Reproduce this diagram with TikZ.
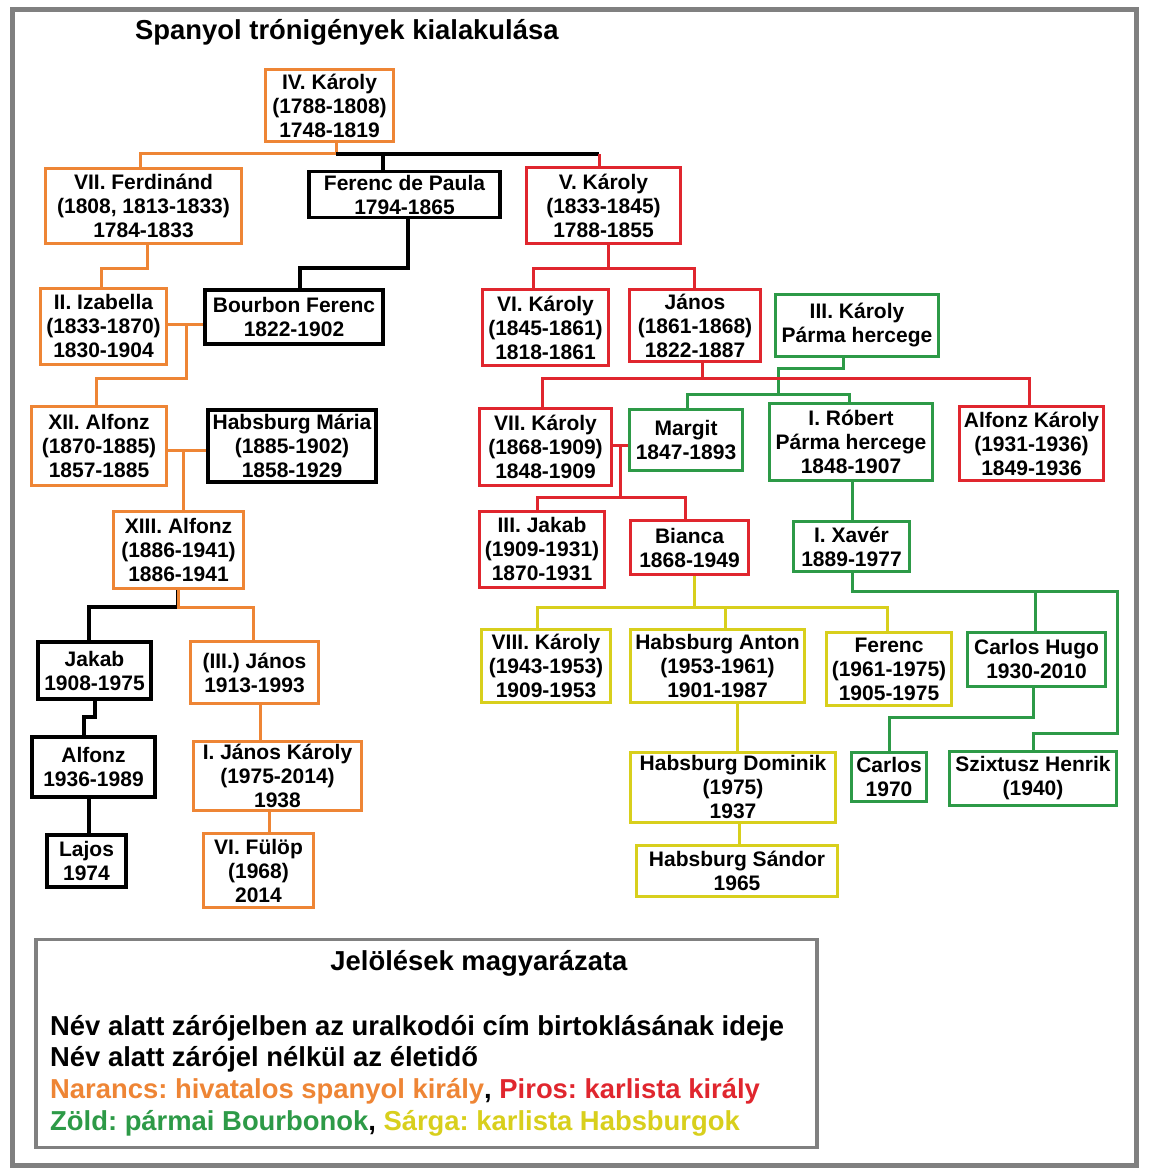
\documentclass[tikz,border=0pt]{standalone}
\usepackage{fontspec}
\setmainfont{Liberation Sans}
\usepackage{tikz}
\frenchspacing
\definecolor{narancs}{HTML}{EE8535}
\definecolor{piros}{HTML}{E0262E}
\definecolor{zold}{HTML}{2D9A47}
\definecolor{sarga}{HTML}{D8CF1C}
\definecolor{framegray}{HTML}{808080}
\tikzset{
  person/.style={draw,line width=3pt,align=center,inner sep=0pt,font=\fontsize{21}{24}\selectfont\bfseries},
  orangebox/.style={person,draw=narancs},
  redbox/.style={person,draw=piros},
  greenbox/.style={person,draw=zold},
  yellowbox/.style={person,draw=sarga},
  blackbox/.style={person,draw=black,line width=3.5pt},
  boxsize/.style 2 args={minimum width=#1pt,minimum height=#2pt},
  orangeline/.style={draw=narancs,line width=3pt},
  redline/.style={draw=piros,line width=3pt},
  greenline/.style={draw=zold,line width=3pt},
  yellowline/.style={draw=sarga,line width=3pt},
  blackline/.style={draw=black,line width=3.5pt},
  outerframe/.style={draw=framegray,line width=5pt},
  legendbox/.style={draw=framegray,line width=3.5pt,inner sep=0pt},
  legendtext/.style={inner sep=0pt,font=\fontsize{27.4}{32}\selectfont\bfseries},
}

\begin{document}
\begin{tikzpicture}[x=1pt,y=-1pt]
    \useasboundingbox (0,0) rectangle (1148,1174);
    \draw[outerframe] (12.5,9.5) rectangle (1136.5,1165);
    \node[legendtext,anchor=base west] (title) at (135,39.5) {Spanyol trónigények kialakulása};

    \node[orangebox,boxsize={128}{72}] (ivkaroly) at (329.5,105.5) {IV. Károly\\(1788-1808)\\1748-1819};
    \node[orangebox,boxsize={196}{75}] (ferdinand) at (143.5,206) {VII. Ferdinánd\\(1808, 1813-1833)\\1784-1833};
    \node[blackbox,boxsize={191}{46}] (ferencp) at (404.5,194.5) {Ferenc de Paula\\1794-1865};
    \node[redbox,boxsize={154}{76}] (vkaroly) at (603.5,205.5) {V. Károly\\(1833-1845)\\1788-1855};
    \node[orangebox,boxsize={126}{76}] (izabella) at (103.5,326.5) {II. Izabella\\(1833-1870)\\1830-1904};
    \node[blackbox,boxsize={178}{54}] (bferenc) at (294,317) {Bourbon Ferenc\\1822-1902};
    \node[redbox,boxsize={126}{76}] (vikaroly) at (545.5,327.5) {VI. Károly\\(1845-1861)\\1818-1861};
    \node[redbox,boxsize={131}{72}] (janos) at (695,325.5) {János\\(1861-1868)\\1822-1887};
    \node[greenbox,boxsize={163}{62}] (iiikaroly) at (857,325.5) {III. Károly\\Párma hercege};
    \node[orangebox,boxsize={135}{79}] (xiialfonz) at (99,446) {XII. Alfonz\\(1870-1885)\\1857-1885};
    \node[blackbox,boxsize={168}{72}] (hmaria) at (292,446) {Habsburg Mária\\(1885-1902)\\1858-1929};
    \node[redbox,boxsize={132}{77}] (viikaroly) at (545.5,447) {VII. Károly\\(1868-1909)\\1848-1909};
    \node[greenbox,boxsize={113}{61}] (margit) at (686,440) {Margit\\1847-1893};
    \node[greenbox,boxsize={163}{77}] (robert) at (851,442) {I. Róbert\\Párma hercege\\1848-1907};
    \node[redbox,boxsize={144}{74}] (alfonzk) at (1031.5,443.5) {Alfonz Károly\\(1931-1936)\\1849-1936};
    \node[orangebox,boxsize={130}{77}] (xiiialfonz) at (178.5,550) {XIII. Alfonz\\(1886-1941)\\1886-1941};
    \node[redbox,boxsize={125}{76}] (iiijakab) at (542,549.5) {III. Jakab\\(1909-1931)\\1870-1931};
    \node[redbox,boxsize={118}{54}] (bianca) at (689.5,547.5) {Bianca\\1868-1949};
    \node[greenbox,boxsize={116}{50}] (xaver) at (851.5,546.5) {I. Xavér\\1889-1977};
    \node[blackbox,boxsize={113}{57}] (jakab) at (94.5,670.5) {Jakab\\1908-1975};
    \node[orangebox,boxsize={128}{62}] (janosiii) at (254.5,672.5) {(III.) János\\1913-1993};
    \node[yellowbox,boxsize={129}{73}] (viiikaroly) at (546,666) {VIII. Károly\\(1943-1953)\\1909-1953};
    \node[yellowbox,boxsize={174}{73}] (anton) at (717.5,666) {Habsburg Anton\\(1953-1961)\\1901-1987};
    \node[yellowbox,boxsize={125}{73}] (ferency) at (889,669) {Ferenc\\(1961-1975)\\1905-1975};
    \node[greenbox,boxsize={138}{54}] (carloshugo) at (1036.5,659.5) {Carlos Hugo\\1930-2010};
    \node[blackbox,boxsize={123}{60}] (alfonz) at (93.5,767) {Alfonz\\1936-1989};
    \node[orangebox,boxsize={168}{69}] (janoskaroly) at (277.5,776) {I. János Károly\\(1975-2014)\\1938};
    \node[yellowbox,boxsize={205}{70}] (dominik) at (733,787.5) {Habsburg Dominik\\(1975)\\1937};
    \node[greenbox,boxsize={75}{49}] (carlos) at (889,777) {Carlos\\1970};
    \node[greenbox,boxsize={167}{54}] (szixtusz) at (1033,778.5) {Szixtusz Henrik\\(1940)};
    \node[blackbox,boxsize={79}{52}] (lajos) at (86.5,861) {Lajos\\1974};
    \node[orangebox,boxsize={110}{74}] (fulop) at (258.5,870.5) {VI. Fülöp\\(1968)\\2014};
    \node[yellowbox,boxsize={201}{51}] (sandor) at (737,871) {Habsburg Sándor\\1965};

    \draw[orangeline] (ivkaroly.south -| 336,0) -- (336,154) -| (ferdinand.north -| 140,0);
    \draw[blackline] (ferencp.north -| 383,0) -- (383,154) (336,154) -- (599,154);
    \draw[redline] (599,154) -- (vkaroly.north -| 599,0);
    \draw[orangeline] (ferdinand.south -| 147,0) -- (147,268) -| (izabella.north -| 101,0);
    \draw[blackline] (ferencp.south -| 408,0) -- (408,268) -| (bferenc.north -| 300,0);
    \draw[orangeline] (izabella.east |- 0,324) -- (bferenc.west |- 0,324) (186,324) -- (186,378) -| (xiialfonz.north -| 96,0);
    \draw[orangeline] (xiialfonz.east |- 0,450) -- (hmaria.west |- 0,450) (183,450) -- (xiiialfonz.north -| 183,0);
    \draw[blackline] (xiiialfonz.south -| 178,0) -- (178,607) -| (jakab.north -| 89,0);
    \draw[orangeline] (xiiialfonz.south -| 178,0) -- (178,607) -| (janosiii.north -| 253,0);
    \draw[blackline] (jakab.south -| 95,0) -- (95,717) -| (alfonz.north -| 84,0);
    \draw[blackline] (alfonz.south -| 89,0) -- (lajos.north -| 89,0);
    \draw[orangeline] (janosiii.south -| 260,0) -- (janoskaroly.north -| 260,0);
    \draw[orangeline] (janoskaroly.south -| 269,0) -- (fulop.north -| 269,0);

    \draw[redline] (vikaroly.north -| 533,0) -- (533,268) -- (694,268) -- (janos.north -| 694,0);
    \draw[redline] (vkaroly.south -| 608,0) -- (608,268);
    \draw[greenline] (iiikaroly.south -| 843,0) -- (843,368) -- (778,368) -- (778,394);
    \draw[greenline] (margit.north -| 687,0) -- (687,394) -- (849,394) -- (robert.north -| 849,0);
    \draw[redline] (viikaroly.north -| 542,0) -- (542,378) -- (1029,378) -- (alfonzk.north -| 1029,0);
    \draw[redline] (janos.south -| 702,0) -- (702,378);
    \draw[redline] (viikaroly.east |- 0,445) -- (margit.west |- 0,445) (620,445) -- (620,497);
    \draw[redline] (iiijakab.north -| 537,0) -- (537,497) -- (685,497) -- (bianca.north -| 685,0);
    \draw[greenline] (robert.south -| 852,0) -- (xaver.north -| 852,0);
    \draw[greenline] (xaver.south -| 852,0) -- (852,591) -- (1117,591) -- (1117,733) -- (1033,733) -- (szixtusz.north -| 1033,0);
    \draw[greenline] (1035,591) -- (carloshugo.north -| 1035,0);
    \draw[greenline] (carloshugo.south -| 1033,0) -- (1033,717) -- (889,717) -- (carlos.north -| 889,0);
    \draw[yellowline] (viiikaroly.north -| 537,0) -- (537,607) -- (887,607) -- (ferency.north -| 887,0);
    \draw[yellowline] (bianca.south -| 694,0) -- (694,607);
    \draw[yellowline] (725,607) -- (anton.north -| 725,0);
    \draw[yellowline] (anton.south -| 737,0) -- (dominik.north -| 737,0);
    \draw[yellowline] (dominik.south -| 739,0) -- (sandor.north -| 739,0);

    \node[legendbox,boxsize={781}{208}] (legend) at (426.5,1043.5) {};
    \node[legendtext,anchor=base] (legtitle) at (479,970) {Jelölések magyarázata};
    \node[legendtext,anchor=base west] (leg1) at (50,1035) {Név alatt zárójelben az uralkodói cím birtoklásának ideje};
    \node[legendtext,anchor=base west] (leg2) at (50,1066) {Név alatt zárójel nélkül az életidő};
    \node[legendtext,anchor=base west] (leg3) at (50,1098) {\textcolor{narancs}{Narancs: hivatalos spanyol király}, \textcolor{piros}{Piros: karlista király}};
    \node[legendtext,anchor=base west] (leg4) at (50,1130) {\textcolor{zold}{Zöld: pármai Bourbonok}, \textcolor{sarga}{Sárga: karlista Habsburgok}};
\end{tikzpicture}
\end{document}
